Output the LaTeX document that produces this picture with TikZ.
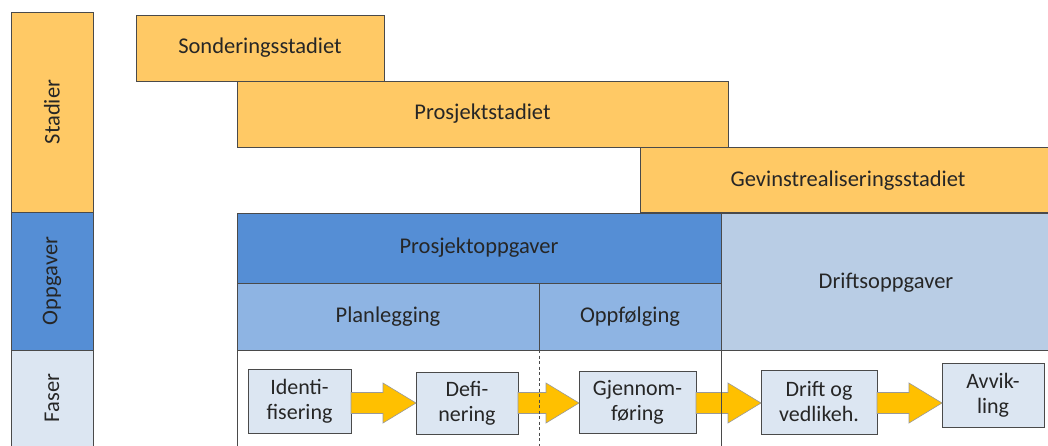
\documentclass[tikz,border=0pt]{standalone}
\usepackage{fontspec}
\setmainfont{Carlito}
\usetikzlibrary{calc}
\definecolor{stagegold}{HTML}{FFC965}
\definecolor{taskblue}{HTML}{558ED5}
\definecolor{planblue}{HTML}{8EB4E3}
\definecolor{opsblue}{HTML}{B9CDE5}
\definecolor{phasebg}{HTML}{DCE6F2}
\definecolor{arrowgold}{HTML}{FFC000}
\definecolor{edge}{HTML}{4A4A4A}
\tikzset{
  labelfont/.style={font=\fontsize{22.5}{26}\selectfont, text=black!85},
  cell/.style={draw=edge, line width=0.9pt, inner sep=0pt, outer sep=0pt, labelfont},
  stagebox/.style={cell, fill=stagegold},
  phasebox/.style={cell, fill=phasebg, align=center, line width=0.8pt,
    font=\fontsize{22}{25}\selectfont},
  flowarrow/.style={fill=arrowgold, draw=gray!80, line width=0.6pt},
  divider/.style={draw=edge, line width=0.9pt},
}
% block arrow between two named boxes along the phase row
\newcommand\flowbetween[2]{%
  \path[flowarrow] let \p1=(#1.east), \p2=(#2.west) in
    (\x1,-392.5pt) -- (\x2-33pt,-392.5pt) -- (\x2-33pt,-383pt) -- (\x2,-403pt)
    -- (\x2-33pt,-423pt) -- (\x2-33pt,-413.5pt) -- (\x1,-413.5pt) -- cycle;}
\begin{document}
\begin{tikzpicture}[x=1pt,y=-1pt]
\useasboundingbox (0,0) rectangle (1048,445);
\begin{scope}
\clip (0,0) rectangle (1048,445);
% row headers on the left
\node[cell, fill=stagegold, minimum width=82, minimum height=200] (hstadier) at (52,112) {\rotatebox{90}{Stadier}};
\node[cell, fill=taskblue, minimum width=82, minimum height=138] (hoppgaver) at (52,281) {\rotatebox{90}{Oppgaver}};
\node[cell, fill=phasebg, minimum width=82, minimum height=110] (hfaser) at (52,405) {};
\node[labelfont, rotate=90] at (52,398) {Faser};
% stages
\node[stagebox, minimum width=248, minimum height=66] (sond) at (260,48) {Sonderingsstadiet};
\node[stagebox, minimum width=491, minimum height=66] (prosj) at (482.5,114) {Prosjektstadiet};
\node[stagebox, minimum width=420, minimum height=65] (gevinst) at (850,179.5) {};
\node[labelfont] at (848,181) {Gevinstrealiseringsstadiet};
% tasks
\node[cell, fill=taskblue, minimum width=484, minimum height=70] (ptask) at (479,248) {Prosjektoppgaver};
\node[cell, fill=planblue, minimum width=302, minimum height=67] (plan) at (388,316.5) {Planlegging};
\node[cell, fill=planblue, minimum width=182, minimum height=67] (oppf) at (630,316.5) {Oppfølging};
\node[cell, fill=opsblue, minimum width=340, minimum height=137] (drift) at (891,281.5) {};
\node[labelfont] at (886,283) {Driftsoppgaver};
% phases
\node[phasebox, minimum width=103, minimum height=64] (ident) at (299.5,401) {Identi-\\fisering};
\node[phasebox, minimum width=102, minimum height=62] (def) at (467,403) {Defi-\\nering};
\node[phasebox, minimum width=117, minimum height=62] (gjen) at (637.5,402) {Gjennom-\\føring};
\node[phasebox, minimum width=116, minimum height=64] (drv) at (819,402) {Drift og\\vedlikeh.};
\node[phasebox, minimum width=102, minimum height=64] (avv) at (993,395) {Avvik-\\ling};
% flow arrows
\flowbetween{ident}{def}
\flowbetween{def}{gjen}
\flowbetween{gjen}{drv}
\flowbetween{drv}{avv}
% phase area dividers, drawn over the arrows
\coordinate (lb) at (237,446);
\coordinate (mb) at (721,446);
\coordinate (db) at (539,446);
\draw[divider] (plan.south west) -- (lb);
\draw[divider] (oppf.south east) -- (mb);
\draw[divider, line width=0.7pt, dash pattern=on 3pt off 2.5pt] (plan.south east) -- (db);
\end{scope}
\end{tikzpicture}
\end{document}
